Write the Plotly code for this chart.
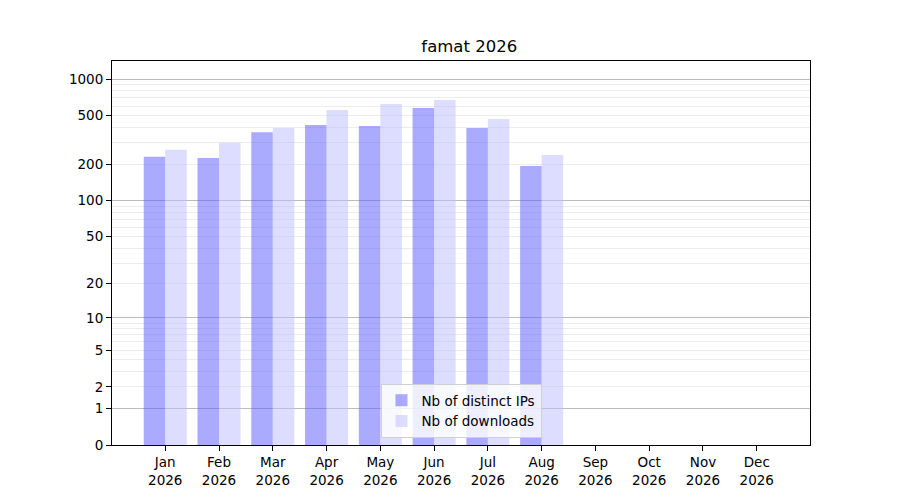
import plotly.graph_objects as go

months = ["Jan", "Feb", "Mar", "Apr", "May", "Jun", "Jul", "Aug", "Sep", "Oct", "Nov", "Dec"]
year = "2026"
distinct_ips = [230, 224, 366, 419, 411, 578, 396, 193, None, None, None, None]
downloads = [262, 300, 396, 556, 623, 672, 469, 237, None, None, None, None]

tick_labels = [0, 1, 2, 5, 10, 20, 50, 100, 200, 500, 1000]
major_grid = [1, 10, 100, 1000]
minor_grid = [3, 4, 6, 7, 8, 9, 30, 40, 60, 70, 80, 90, 300, 400, 600, 700, 800, 900]

x_labels = [f"{m}<br>{year}" for m in months]

# axis uses log10(value + 1) scale
tickvals = [v + 1 for v in tick_labels]
ticktext = [str(v) for v in tick_labels]
yrange = [0, 3.148]

font = "DejaVu Sans"
fig = go.Figure()
fig.add_trace(go.Bar(
    x=x_labels, y=distinct_ips, base=1, name="Nb of distinct IPs",
    marker=dict(color="rgba(85,85,255,0.5)", line=dict(width=0)),
    offset=-0.4, width=0.4, yaxis="y",
))
fig.add_trace(go.Bar(
    x=x_labels, y=downloads, base=1, name="Nb of downloads",
    marker=dict(color="rgba(187,187,255,0.5)", line=dict(width=0)),
    offset=0.0, width=0.4, yaxis="y2",
))

# page body has an 8px margin, compensate
fig.update_layout(
    width=900, height=500,
    margin=dict(l=104, r=98, t=53, b=63),
    paper_bgcolor="white", plot_bgcolor="white",
    font=dict(family=font, size=13.5, color="black"),
    title=dict(text="famat 2026", x=0.5125, xanchor="center", y=1 - 38 / 500,
               yanchor="middle", font=dict(size=16.5, family=font, color="black")),
    barmode="overlay",
    showlegend=True,
    legend=dict(x=0.5, y=0.018, xanchor="center", yanchor="bottom",
                bgcolor="rgba(255,255,255,0.8)", bordercolor="#d0d0d0", borderwidth=1,
                font=dict(size=13.5, family=font), traceorder="normal"),
    xaxis=dict(
        type="category", categoryorder="array", categoryarray=x_labels,
        range=[-0.99, 11.99], showline=True, linecolor="black", linewidth=1, mirror=True,
        ticks="outside", ticklen=5, tickwidth=1, tickcolor="black", showgrid=False,
        zeroline=False, tickangle=0,
    ),
    yaxis=dict(
        type="log", range=yrange, tickmode="array", tickvals=tickvals, ticktext=ticktext,
        showline=True, linecolor="black", linewidth=1, mirror=True,
        ticks="outside", ticklen=5, tickwidth=1, tickcolor="black",
        showgrid=True, gridcolor="rgba(0,0,0,0.075)", gridwidth=1, zeroline=False,
        minor=dict(tickmode="array", tickvals=[v + 1 for v in minor_grid], showgrid=True,
                   gridcolor="rgba(0,0,0,0.075)", gridwidth=1, ticks=""),
    ),
    yaxis2=dict(
        type="log", range=yrange, overlaying="y", anchor="x", side="left",
        tickmode="array", tickvals=[v + 1 for v in major_grid], showticklabels=False,
        ticks="", showline=False, showgrid=True, gridcolor="rgba(0,0,0,0.2)", gridwidth=1,
        zeroline=False,
    ),
)

fig.write_html("out.html")
